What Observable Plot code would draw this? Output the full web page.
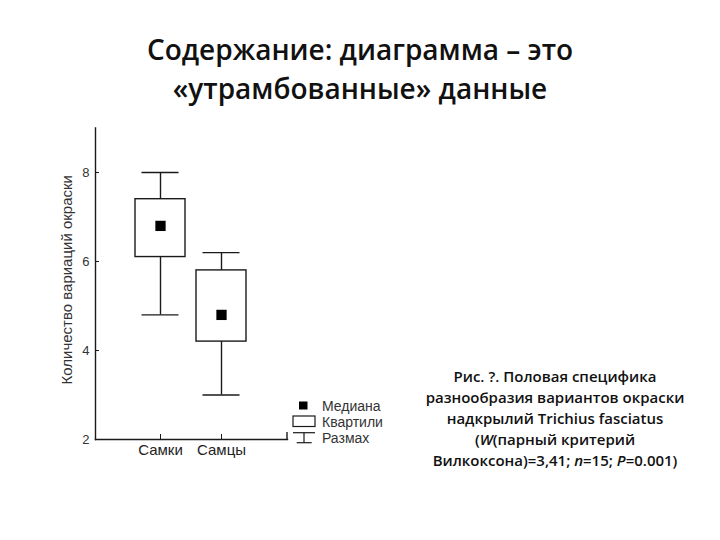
<!DOCTYPE html>
<html>
<head>
<meta charset="utf-8">
<script src="https://cdn.jsdelivr.net/npm/d3@7"></script>
<script src="https://cdn.jsdelivr.net/npm/@observablehq/plot@0.6"></script>
<style>
  body { margin:0; background:#fff; }
  #wrap { position:relative; width:720px; height:540px; background:#fff; overflow:hidden; }
  #title { position:absolute; left:0; top:30px; width:720px; text-align:center;
           font-family:"Open Sans", "Noto Sans", sans-serif; font-weight:600; font-size:28px; line-height:39px; color:#111; }
  #chart { position:absolute; left:0; top:110px; }
  #legend { position:absolute; left:280px; top:390px; }
  #caption { position:absolute; left:390px; top:366px; width:330px; text-align:center;
             font-family:"Open Sans", "Noto Sans", sans-serif; font-weight:600; font-size:15px; line-height:21px; color:#111; }
</style>
</head>
<body>
<div id="wrap">
  <div id="title">Содержание: диаграмма – это<br>«утрамбованные» данные</div>
  <div id="chart"></div>
  <svg id="legend" width="110" height="60"></svg>
  <div id="caption"></div>
</div>
<script>
const categories = ["Самки", "Самцы"];
const whiskerMin = [4.8, 3.0];
const quartile1 = [6.1, 4.2];
const medians = [6.8, 4.8];
const quartile3 = [7.4, 5.8];
const whiskerMax = [8.0, 6.2];
const yTicks = [2, 4, 6, 8];
const yLabel = "Количество вариаций окраски";
const legendLabels = ["Медиана", "Квартили", "Размах"];
const captionLines = [
  "Рис. ?. Половая специфика",
  "разнообразия вариантов окраски",
  "надкрылий Trichius fasciatus",
  "(<i>W</i>(парный критерий",
  "Вилкоксона)=3,41; <i>n</i>=15; <i>P</i>=0.001)"
];

const data = categories.map((c, i) => ({
  cat: c, min: whiskerMin[i], q1: quartile1[i], med: medians[i], q3: quartile3[i], max: whiskerMax[i]
}));

const ink = "#1a1a1a";
const W = 400, ML = 95, MR = 113, MT = 17.5, MB = 41, H = 370;
const chart = Plot.plot({
  width: W,
  height: H,
  marginLeft: ML,
  marginRight: MR,
  marginTop: MT,
  marginBottom: MB,
  style: { fontFamily: "'Liberation Sans', Arial, sans-serif", fontSize: "13px", color: "#333", background: "white", overflow: "visible" },
  x: { type: "band", domain: categories, paddingInner: 0.177, paddingOuter: 0.64 },
  y: { domain: [2, 9] },
  marks: [
    Plot.ruleX(data, { x: "cat", y1: "min", y2: "max", stroke: ink, strokeWidth: 1.4 }),
    Plot.tickY(data, { x: "cat", y: "max", stroke: ink, strokeWidth: 1.4, insetLeft: 6.5, insetRight: 6.5 }),
    Plot.tickY(data, { x: "cat", y: "min", stroke: ink, strokeWidth: 1.4, insetLeft: 6.5, insetRight: 6.5 }),
    Plot.barY(data, { x: "cat", y1: "q1", y2: "q3", fill: "white", stroke: ink, strokeWidth: 1.4 }),
    Plot.dot(data, { x: "cat", y: "med", symbol: "square", r: 5.8, fill: "black", stroke: "none" }),
    Plot.axisY({ ticks: yTicks, tickFormat: "d", tickSize: -4, tickPadding: 10, label: null, fontSize: 13, stroke: ink, fill: "#333" }),
    Plot.axisX({ tickSize: -5, tickPadding: 10, label: null, fontSize: 15, stroke: ink, fill: "#222" }),
    Plot.text([yLabel], { frameAnchor: "left", rotate: -90, textAnchor: "middle", dx: -28, dy: -4, fontSize: 15, fill: "#333" }),
    Plot.frame({ anchor: "left", stroke: ink, strokeWidth: 1.4 }),
    Plot.frame({ anchor: "bottom", stroke: ink, strokeWidth: 1.4 })
  ]
});
// small upward tick closing the right end of the x axis
d3.select(chart).append("line")
  .attr("x1", W - MR).attr("x2", W - MR)
  .attr("y1", H - MB).attr("y2", H - MB - 7)
  .attr("stroke", ink).attr("stroke-width", 1.4);
document.getElementById("chart").appendChild(chart);

// legend
const lg = d3.select("#legend");
const f = "'Liberation Sans', Arial, sans-serif";
lg.append("rect").attr("x", 19).attr("y", 11.5).attr("width", 8.5).attr("height", 8).attr("fill", "black");
lg.append("rect").attr("x", 13).attr("y", 26).attr("width", 22).attr("height", 10.5).attr("fill", "white").attr("stroke", ink).attr("stroke-width", 1.2);
lg.append("line").attr("x1", 13).attr("x2", 35).attr("y1", 42.7).attr("y2", 42.7).attr("stroke", ink).attr("stroke-width", 1.2);
lg.append("line").attr("x1", 24).attr("x2", 24).attr("y1", 42.7).attr("y2", 52.7).attr("stroke", ink).attr("stroke-width", 1.2);
lg.append("line").attr("x1", 16.7).attr("x2", 31.7).attr("y1", 52.7).attr("y2", 52.7).attr("stroke", ink).attr("stroke-width", 1.2);
legendLabels.forEach((t, i) => {
  lg.append("text").attr("x", 42).attr("y", 21 + i * 16).attr("font-family", f).attr("font-size", 14)
    .attr("fill", "#333").text(t);
});

document.getElementById("caption").innerHTML = captionLines.join("<br>");
</script>
</body>
</html>
